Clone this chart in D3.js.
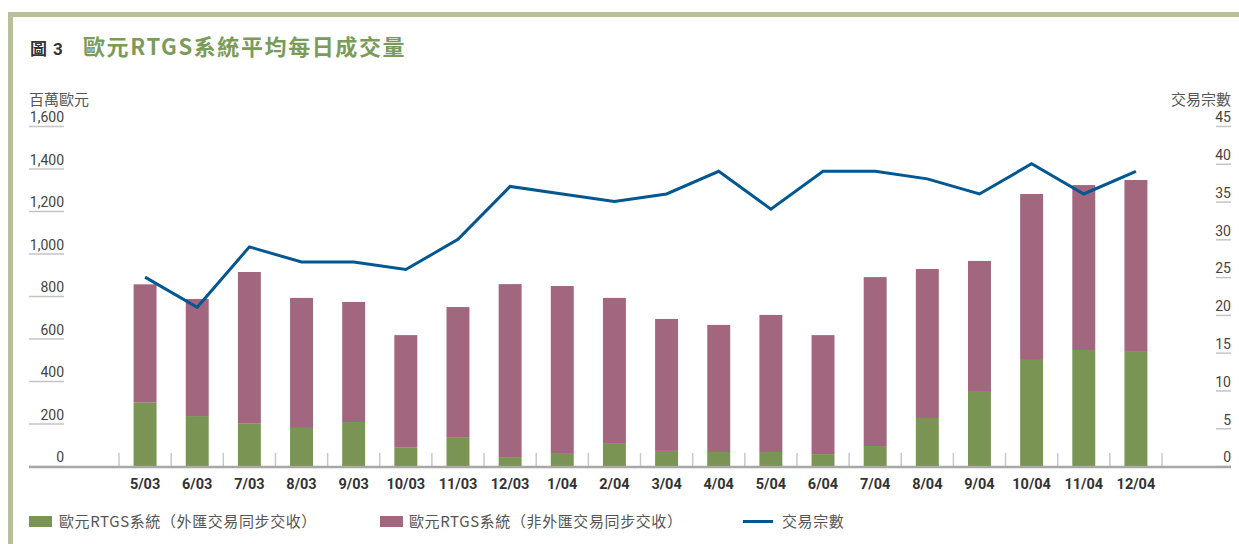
<!DOCTYPE html>
<html>
<head>
<meta charset="utf-8">
<script src="https://cdn.jsdelivr.net/npm/d3@7"></script>
<style>
  html, body { margin: 0; padding: 0; background: #fff; }
  svg { display: block; }
  .cjk { font-family: "Noto Sans CJK TC", "Noto Sans", sans-serif; }
  .num { font-family: Roboto, "Liberation Sans", sans-serif; }
</style>
</head>
<body>
<svg id="chart" width="1239" height="544"></svg>
<script>
// Months (month/yy)
const months = ["5/03","6/03","7/03","8/03","9/03","10/03","11/03","12/03","1/04","2/04",
                "3/04","4/04","5/04","6/04","7/04","8/04","9/04","10/04","11/04","12/04"];
// Daily average value settled with FX PvP (million euro)
const pvpValue = [300, 235, 199, 179, 207, 86, 136, 42, 61, 108,
                  71, 66, 66, 56, 94, 226, 353, 499, 546, 541];
// Daily average value settled without FX PvP (million euro)
const nonPvpValue = [555, 551, 714, 612, 565, 530, 612, 814, 786, 683,
                     621, 598, 645, 560, 795, 701, 612, 781, 776, 805];
// Daily average number of transactions
const txCount = [25, 21, 29, 27, 27, 26, 30, 37, 36, 35,
                 36, 39, 34, 39, 39, 38, 36, 40, 36, 39];
// Axis ticks
const leftTicks = [0, 200, 400, 600, 800, 1000, 1200, 1400, 1600];
const rightTicks = [0, 5, 10, 15, 20, 25, 30, 35, 40, 45];

const seriesNames = ["歐元RTGS系統（外匯交易同步交收）", "歐元RTGS系統（非外匯交易同步交收）", "交易宗數"];
const colors = { pvp: "#7a9553", nonPvp: "#a2677e", line: "#005791", frame: "#b6c19b", title: "#7b9b5b" };

const svg = d3.select("#chart");

// Frame
svg.append("rect").attr("x", 8).attr("y", 12).attr("width", 1231).attr("height", 5).attr("fill", colors.frame);
svg.append("rect").attr("x", 8).attr("y", 12).attr("width", 5).attr("height", 532).attr("fill", colors.frame);

// Title
svg.append("text").attr("class", "cjk").attr("x", 30).attr("y", 55)
  .attr("font-size", 17).attr("font-weight", 700).attr("fill", "#333")
  .text("圖");
svg.append("text").attr("class", "num").attr("x", 53).attr("y", 55)
  .attr("font-size", 17).attr("font-weight", 700).attr("fill", "#333")
  .text("3");
svg.append("text").attr("class", "cjk").attr("x", 83).attr("y", 55)
  .attr("font-size", 22).attr("font-weight", 700).attr("fill", colors.title)
  .attr("letter-spacing", 1.6)
  .text("歐元RTGS系統平均每日成交量");

// Scales
const x = d3.scaleBand().domain(months).range([119, 1162]).paddingInner(0.56).paddingOuter(0.28);
const yL = d3.scaleLinear().domain([0, 1600]).range([466, 126]);
const yR = d3.scaleLinear().domain([0, 45]).range([466, 126]);

// Axis titles
svg.append("text").attr("class", "cjk").attr("x", 29).attr("y", 105)
  .attr("font-size", 15).attr("fill", "#555").text("百萬歐元");
svg.append("text").attr("class", "cjk").attr("x", 1231).attr("y", 105)
  .attr("text-anchor", "end").attr("font-size", 15).attr("fill", "#555").text("交易宗數");

// Left axis: labels sitting on short underlines
const leftAxis = d3.axisLeft(yL).tickValues(leftTicks).tickSize(35).tickPadding(0).tickFormat(d3.format(","));
const gL = svg.append("g").attr("transform", "translate(64,0)").call(leftAxis);
gL.select(".domain").remove();
gL.selectAll(".tick line").attr("stroke", "#c4c4c4").attr("stroke-width", 1.5);
gL.selectAll(".tick text").attr("class", "num").attr("font-size", 14).attr("fill", "#444")
  .attr("x", 0).attr("dy", "-0.3em").attr("text-anchor", "end");

// Right axis
const rightAxis = d3.axisRight(yR).tickValues(rightTicks).tickSize(15).tickPadding(0);
const gR = svg.append("g").attr("transform", "translate(1216,0)").call(rightAxis);
gR.select(".domain").remove();
gR.selectAll(".tick line").attr("stroke", "#c4c4c4").attr("stroke-width", 1.5);
gR.selectAll(".tick text").attr("class", "num").attr("font-size", 14).attr("fill", "#444")
  .attr("x", 15).attr("dy", "-0.3em").attr("text-anchor", "end");

// Category boundary ticks
const step = x.step();
const bounds = months.map(m => x(m) + x.bandwidth() / 2 - step / 2).concat([x(months[months.length - 1]) + x.bandwidth() / 2 + step / 2]);
svg.append("g").selectAll("line").data(bounds).join("line")
  .attr("x1", d => d).attr("x2", d => d).attr("y1", 453).attr("y2", 466)
  .attr("stroke", "#c8c8c8").attr("stroke-width", 1.5);

// Stacked bars
const stackData = months.map((m, i) => ({ month: m, pvp: pvpValue[i], nonPvp: nonPvpValue[i] }));
const stacked = d3.stack().keys(["pvp", "nonPvp"])(stackData);
svg.append("g").selectAll("g").data(stacked).join("g")
  .attr("fill", d => colors[d.key])
  .selectAll("rect").data(d => d).join("rect")
  .attr("x", d => x(d.data.month))
  .attr("width", x.bandwidth())
  .attr("y", d => yL(d[1]))
  .attr("height", d => yL(d[0]) - yL(d[1]));

// Baseline
svg.append("line").attr("x1", 29).attr("x2", 1231).attr("y1", 467).attr("y2", 467)
  .attr("stroke", "#a8a8a8").attr("stroke-width", 2.5);

// Month labels
svg.append("g").selectAll("text").data(months).join("text")
  .attr("class", "num")
  .attr("x", d => x(d) + x.bandwidth() / 2).attr("y", 489)
  .attr("text-anchor", "middle").attr("font-size", 14.5).attr("font-weight", 700).attr("fill", "#333")
  .text(d => d);

// Transactions line
const line = d3.line().x((d, i) => x(months[i]) + x.bandwidth() / 2).y(d => yR(d));
svg.append("path").datum(txCount).attr("d", line)
  .attr("fill", "none").attr("stroke", colors.line).attr("stroke-width", 3).attr("stroke-linejoin", "miter");

// Legend
const lg = svg.append("g");
lg.append("rect").attr("x", 29).attr("y", 516).attr("width", 23).attr("height", 11).attr("fill", colors.pvp);
lg.append("text").attr("class", "cjk").attr("x", 59).attr("y", 527).attr("font-size", 15).attr("letter-spacing", 0.6).attr("fill", "#555").text(seriesNames[0]);
lg.append("rect").attr("x", 380).attr("y", 516).attr("width", 23).attr("height", 11).attr("fill", colors.nonPvp);
lg.append("text").attr("class", "cjk").attr("x", 409).attr("y", 527).attr("font-size", 15).attr("letter-spacing", 0.6).attr("fill", "#555").text(seriesNames[1]);
lg.append("line").attr("x1", 743).attr("x2", 773).attr("y1", 521.5).attr("y2", 521.5).attr("stroke", colors.line).attr("stroke-width", 3);
lg.append("text").attr("class", "cjk").attr("x", 782).attr("y", 527).attr("font-size", 15).attr("letter-spacing", 0.6).attr("fill", "#555").text(seriesNames[2]);
</script>
</body>
</html>
